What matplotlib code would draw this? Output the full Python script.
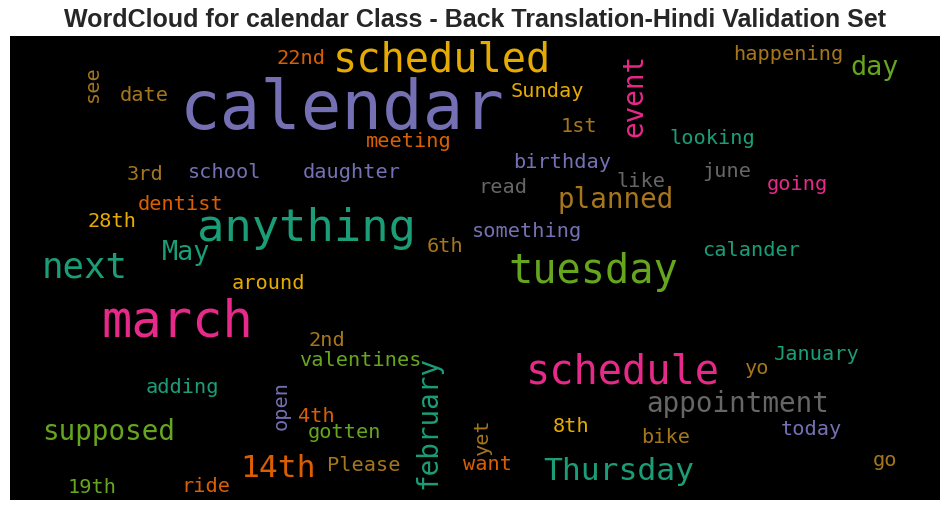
import matplotlib
matplotlib.use("Agg")
import matplotlib.pyplot as plt

# ---- data: words, relative frequency (weight) and colour class ----
words = ["calendar", "march", "anything", "scheduled", "tuesday", "schedule",
         "next", "14th", "Thursday", "planned", "supposed", "appointment",
         "february", "event", "day", "May",
         "22nd", "see", "date", "meeting", "3rd", "school", "daughter",
         "dentist", "28th", "6th", "happening", "Sunday", "1st", "looking",
         "birthday", "june", "like", "read", "going", "something", "calander",
         "around", "2nd", "valentines", "adding", "open", "4th", "gotten",
         "Please", "19th", "ride", "want", "yet", "January", "yo", "8th",
         "bike", "today", "go"]
weights = [1.00, 0.75, 0.675, 0.60, 0.60, 0.60,
           0.53, 0.465, 0.465, 0.41, 0.41, 0.41,
           0.41, 0.41, 0.40, 0.40,
           0.30, 0.30, 0.30, 0.30, 0.30, 0.30, 0.30,
           0.30, 0.30, 0.30, 0.30, 0.30, 0.30, 0.30,
           0.30, 0.30, 0.30, 0.30, 0.30, 0.30, 0.30,
           0.30, 0.30, 0.30, 0.30, 0.30, 0.30, 0.30,
           0.30, 0.30, 0.30, 0.30, 0.30, 0.30, 0.30, 0.30,
           0.30, 0.30, 0.30]
color_class = ["purple", "pink", "teal", "yellow", "green", "pink",
               "teal", "orange", "teal", "brown", "green", "gray",
               "teal", "pink", "green", "teal",
               "orange", "brown", "brown", "orange", "brown", "purple", "purple",
               "orange", "yellow", "brown", "brown", "yellow", "brown", "teal",
               "purple", "gray", "gray", "gray", "pink", "purple", "teal",
               "yellow", "brown", "green", "teal", "purple", "orange", "green",
               "brown", "green", "orange", "orange", "brown", "teal", "brown", "yellow",
               "brown", "purple", "brown"]

title = "WordCloud for calendar Class - Back Translation-Hindi Validation Set"

# ---- layout (word-cloud placement, image pixel coords) ----
layout = {
    "calendar": (180, 129, 0), "march": (101, 336, 0), "anything": (197, 241, 0),
    "scheduled": (333, 71, 0), "tuesday": (508, 283, 0), "schedule": (526, 383, 0),
    "next": (42, 277, 0), "14th": (240, 477, 0), "Thursday": (543, 480, 0),
    "planned": (557, 208, 0), "supposed": (42, 440, 0), "appointment": (646, 412, 0),
    "february": (436, 489, 90), "event": (642, 137, 90), "day": (850, 75, 0),
    "May": (162, 260, 0),
    "22nd": (276, 64, 0), "see": (98, 102, 90), "date": (120, 101, 0),
    "meeting": (366, 147, 0), "3rd": (127, 180, 0), "school": (188, 178, 0),
    "daughter": (303, 178, 0), "dentist": (138, 210, 0), "28th": (87, 227, 0),
    "6th": (427, 252, 0), "happening": (733, 60, 0), "Sunday": (511, 97, 0),
    "1st": (561, 132, 0), "looking": (669, 144, 0), "birthday": (513, 168, 0),
    "june": (702, 177, 0), "like": (616, 187, 0), "read": (478, 193, 0),
    "going": (767, 190, 0), "something": (472, 237, 0), "calander": (702, 256, 0),
    "around": (232, 289, 0), "2nd": (308, 346, 0), "valentines": (299, 366, 0),
    "adding": (146, 393, 0), "open": (287, 430, 90), "4th": (298, 422, 0),
    "gotten": (308, 438, 0), "Please": (327, 471, 0), "19th": (68, 493, 0),
    "ride": (181, 492, 0), "want": (463, 470, 0), "yet": (488, 455, 90),
    "January": (774, 360, 0), "yo": (745, 374, 0), "8th": (553, 432, 0),
    "bike": (641, 443, 0), "today": (781, 435, 0), "go": (873, 466, 0),
}

palette = {"teal": "#1b9e77", "orange": "#d95f02", "purple": "#7570b3",
           "pink": "#e7298a", "green": "#66a61e", "yellow": "#e6ab02",
           "brown": "#a6761d", "gray": "#666666"}

W, H = 950, 511
fig = plt.figure(figsize=(W / 100, H / 100), dpi=100)
fig.patch.set_facecolor("white")
x0, x1, y0, y1 = 10, 940, 36, 500
ax = fig.add_axes([x0 / W, 1 - y1 / H, (x1 - x0) / W, (y1 - y0) / H])
ax.set_xlim(x0, x1)
ax.set_ylim(y1, y0)
ax.set_facecolor("black")
ax.set_xticks([])
ax.set_yticks([])
for s in ax.spines.values():
    s.set_visible(False)

base_pt = 48.5
for w, wt, c in zip(words, weights, color_class):
    x, y, rot = layout[w]
    ax.text(x, y, w, fontsize=base_pt * wt, color=palette[c],
            family="DejaVu Sans Mono", ha="left", va="baseline",
            rotation=rot, rotation_mode="anchor", clip_on=True)

fig.text(0.5, 1 - 27 / H, title, ha="center", va="baseline",
         fontsize=18, fontweight="bold", color="#262626",
         family=["Liberation Sans", "DejaVu Sans"])

fig.savefig("out.png", dpi=100)
